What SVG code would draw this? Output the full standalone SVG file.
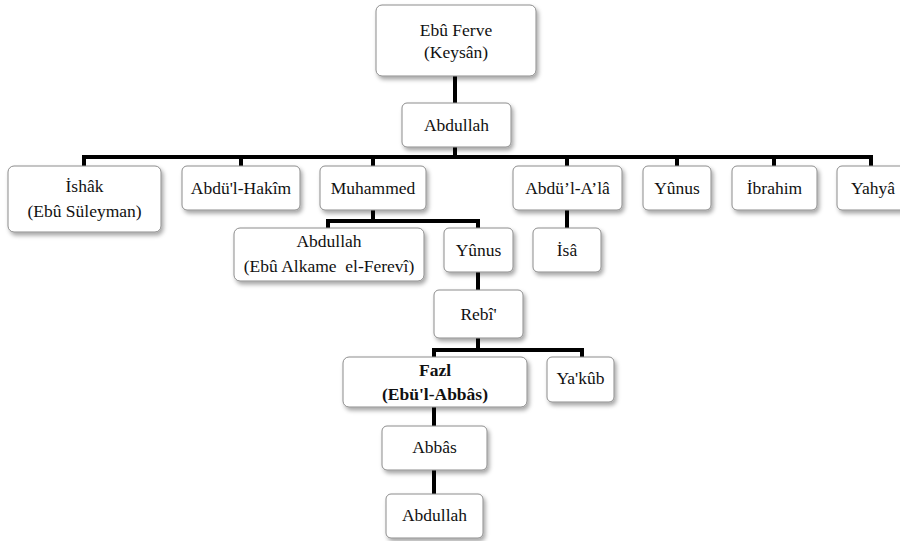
<svg xmlns="http://www.w3.org/2000/svg" width="900" height="541" viewBox="0 0 900 541">
<defs>
<filter id="sh" x="-20%" y="-20%" width="140%" height="160%">
<feDropShadow dx="2" dy="3" stdDeviation="2" flood-color="#000" flood-opacity="0.35"/>
</filter>
<style>
.box{fill:#fff;stroke:#8c8c8c;stroke-width:1;filter:url(#sh)}
text{font-family:'Liberation Serif','DejaVu Serif',serif;font-size:17.5px;fill:#111;text-anchor:middle}
.b{font-weight:bold}
.ln{fill:none;stroke:#000;stroke-width:4;stroke-linejoin:miter;stroke-linecap:square}
</style>
</defs>
<rect width="900" height="541" fill="#fff"/>
<g id="connectors">
<path class="ln" d="M455,78 V102"/>
<path class="ln" d="M455,149 V157"/>
<path class="ln" d="M84,165 V157 H871 V165"/>
<path class="ln" d="M241,157 V165 M373,157 V165 M567,157 V165 M677,157 V165 M774,157 V165"/>
<path class="ln" d="M373,212 V221"/>
<path class="ln" d="M328,227 V221 H478 V227"/>
<path class="ln" d="M567,212 V227"/>
<path class="ln" d="M478,274 V289"/>
<path class="ln" d="M478,340 V350"/>
<path class="ln" d="M434,356 V350 H582 V356"/>
<path class="ln" d="M434,409 V425"/>
<path class="ln" d="M434,472 V493"/>
</g>
<g font-family="Liberation Serif, DejaVu Serif, serif">
<g id="n_ebuferve"><rect class="box" x="376" y="5" width="160" height="71" rx="6"/><text x="456" y="36">Ebû Ferve</text><text x="456" y="58">(Keysân)</text></g>
<g id="n_abdullah1"><rect class="box" x="402" y="103" width="109" height="44" rx="5"/><text x="456.5" y="131">Abdullah</text></g>
<g id="n_ishak"><rect class="box" x="8" y="166" width="153" height="66" rx="6"/><text x="84.5" y="192">İshâk</text><text x="84.5" y="217">(Ebû Süleyman)</text></g>
<g id="n_hakim"><rect class="box" x="182" y="166" width="118" height="44" rx="5"/><text x="241" y="194">Abdü'l-Hakîm</text></g>
<g id="n_muhammed"><rect class="box" x="320" y="166" width="106" height="44" rx="5"/><text x="373" y="194">Muhammed</text></g>
<g id="n_abdulala"><rect class="box" x="513" y="166" width="109" height="44" rx="5"/><text x="567.5" y="194">Abdü’l-A’lâ</text></g>
<g id="n_yunus1"><rect class="box" x="643" y="166" width="68" height="44" rx="5"/><text x="677" y="194">Yûnus</text></g>
<g id="n_ibrahim"><rect class="box" x="732" y="166" width="85" height="44" rx="5"/><text x="774.5" y="194">İbrahim</text></g>
<g id="n_yahya"><rect class="box" x="837" y="166" width="72" height="44" rx="5"/><text x="873" y="194">Yahyâ</text></g>
<g id="n_abdullah2"><rect class="box" x="234" y="228" width="190" height="53" rx="6"/><text x="329" y="247">Abdullah</text><text x="329" y="272" xml:space="preserve">(Ebû Alkame  el-Ferevî)</text></g>
<g id="n_yunus2"><rect class="box" x="444" y="228" width="69" height="44" rx="5"/><text x="478.5" y="256">Yûnus</text></g>
<g id="n_isa"><rect class="box" x="533" y="228" width="68" height="44" rx="5"/><text x="567" y="256">İsâ</text></g>
<g id="n_rebi"><rect class="box" x="434" y="290" width="89" height="48" rx="5"/><text x="478.5" y="320">Rebî'</text></g>
<g id="n_fazl"><rect class="box" x="343" y="357" width="184" height="50" rx="6"/><text class="b" x="435" y="376">Fazl</text><text class="b" x="435" y="400">(Ebü'l-Abbâs)</text></g>
<g id="n_yakub"><rect class="box" x="547" y="357" width="67" height="45" rx="5"/><text x="580.5" y="384">Ya'kûb</text></g>
<g id="n_abbas"><rect class="box" x="382" y="426" width="105" height="44" rx="5"/><text x="434.5" y="453">Abbâs</text></g>
<g id="n_abdullah3"><rect class="box" x="386" y="494" width="97" height="44" rx="5"/><text x="434.5" y="521">Abdullah</text></g>
</g>
</svg>
